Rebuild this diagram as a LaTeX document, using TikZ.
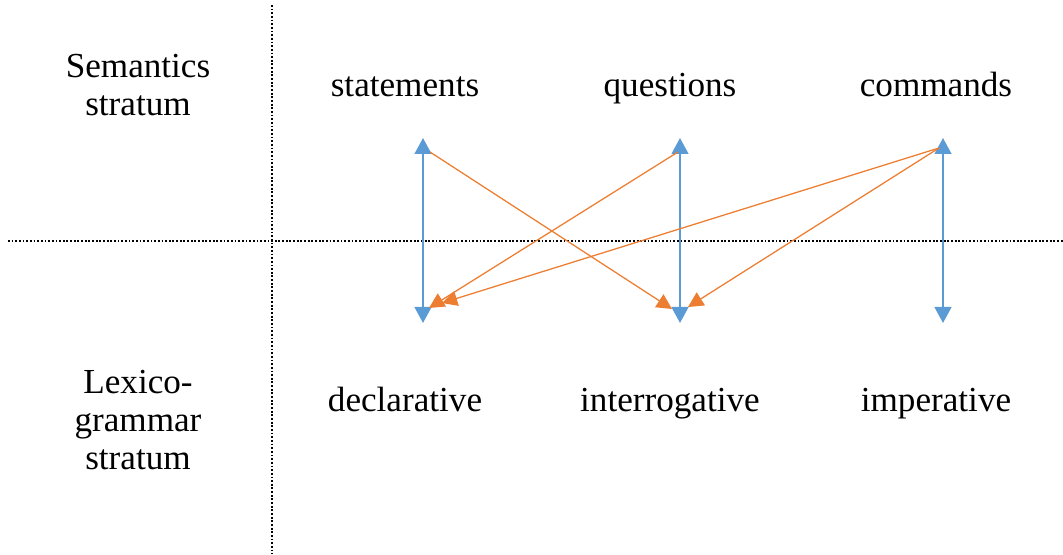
\documentclass[tikz,border=0pt]{standalone}
\usepackage{fontspec}
\setmainfont{Liberation Serif}
\definecolor{msblue}{RGB}{91,155,213}
\definecolor{msorange}{RGB}{237,125,49}
\usetikzlibrary{arrows.meta,positioning}

\begin{document}
\begin{tikzpicture}[
    lbl/.style={font=\fontsize{25}{27}\selectfont, align=center, inner sep=0pt},
    cat/.style={lbl, text height=0.75em, text depth=0.25em},
    divider/.style={line width=1.3pt, dash pattern=on 1.3pt off 1.3pt},
    realize/.style={{Triangle[width=0.42cm,length=0.4cm]}-{Triangle[width=0.42cm,length=0.4cm]},
                line width=1.4pt, msblue},
    cross/.style={-{Triangle[width=0.38cm,length=0.38cm]}, line width=0.9pt, msorange}
  ]
    \useasboundingbox (0,0) rectangle (26.575,13.85);

    % Stratum dividers
    \coordinate (vtop) at (6.8,13.725);
    \coordinate (vbot) at (6.8,0);
    \coordinate (hleft) at (0.2,7.825);
    \coordinate (hright) at (26.575,7.825);
    \draw[divider] (vtop) -- (vbot);
    \draw[divider] (hleft) -- (hright);

    % Stratum labels
    \node[lbl] (sem) at (3.45,11.725) {Semantics\\stratum};
    \node[lbl] (lex) at (3.45,3.35)   {Lexico-\\grammar\\stratum};

    % Semantic categories
    \node[cat] (stat) at (10.125,11.53) {statements};
    \node[cat] (ques) at (16.75,11.53)  {questions};
    \node[cat] (comm) at (23.4,11.53)   {commands};

    % Grammatical categories
    \node[cat] (decl) at (10.125,3.65) {declarative};
    \node[cat] (intg) at (16.75,3.65)  {interrogative};
    \node[cat] (impv) at (23.4,3.65)   {imperative};

    % Arrow ends
    \coordinate (statTop) at (10.575,10.4);
    \coordinate (statBot) at (10.575,5.775);
    \coordinate (quesTop) at (17.0,10.4);
    \coordinate (quesBot) at (17.0,5.775);
    \coordinate (commTop) at (23.575,10.4);
    \coordinate (commBot) at (23.575,5.775);

    % Congruent realizations
    \draw[realize] (statTop) -- (statBot);
    \draw[realize] (quesTop) -- (quesBot);
    \draw[realize] (commTop) -- (commBot);

    % Incongruent realizations
    \coordinate (statOut) at (10.75,10.05);
    \coordinate (quesOut) at (16.95,10.05);
    \coordinate (commOut) at (23.475,10.15);
    \coordinate (declInA) at (10.725,6.15);
    \coordinate (declInB) at (11.05,6.275);
    \coordinate (intgInA) at (16.8,6.125);
    \coordinate (intgInB) at (17.2,6.175);
    \draw[cross] (statOut) -- (intgInA);
    \draw[cross] (quesOut) -- (declInA);
    \draw[cross] (commOut) -- (declInB);
    \draw[cross] (commOut) -- (intgInB);
\end{tikzpicture}
\end{document}
